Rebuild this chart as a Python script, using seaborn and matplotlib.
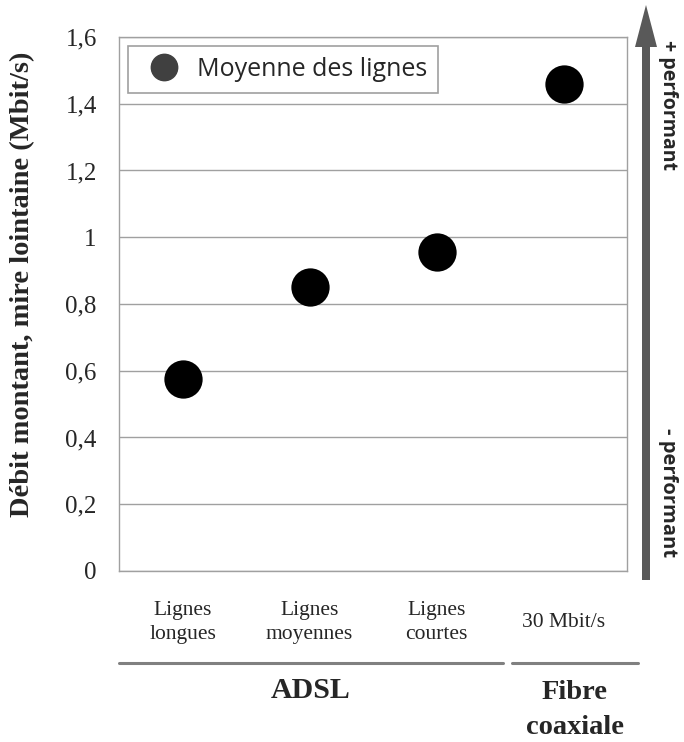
import pandas as pd
import matplotlib.pyplot as plt
import seaborn as sns
from matplotlib.lines import Line2D
from matplotlib.patches import FancyArrow

categories = ["Lignes\nlongues", "Lignes\nmoyennes", "Lignes\ncourtes", "30 Mbit/s"]
values = [0.575, 0.85, 0.955, 1.46]
y_ticks = [0, 0.2, 0.4, 0.6, 0.8, 1.0, 1.2, 1.4, 1.6]
y_labels = ["0", "0,2", "0,4", "0,6", "0,8", "1", "1,2", "1,4", "1,6"]
groups = ["ADSL", "Fibre\ncoaxiale"]

sns.set_theme(style="white")
plt.rcParams["font.family"] = ["Liberation Serif", "DejaVu Serif"]

frame = pd.DataFrame({"cat": categories, "val": values})

fig = plt.figure(figsize=(6.84, 7.42), dpi=100)
ax = fig.add_axes([0.174, 0.2305, 0.743, 0.7197])

sns.scatterplot(data=frame, x="cat", y="val", ax=ax, s=760, color="black",
                edgecolor="black", linewidth=0, legend=False, zorder=3)

ax.set_xlim(-0.5, 3.5)
ax.set_ylim(0, 1.6)
ax.set_yticks(y_ticks)
ax.set_yticklabels(y_labels, fontsize=18)
ax.set_xticks(range(4))
ax.set_xticklabels(categories, fontsize=15.5, linespacing=1.35, va="center")
ax.tick_params(axis="x", length=0, pad=37)
ax.tick_params(axis="y", length=0, pad=16)
ax.yaxis.grid(True, color="#a0a0a0", linewidth=1)
ax.set_axisbelow(True)
for sp in ax.spines.values():
    sp.set_color("#a0a0a0")
    sp.set_linewidth(1)
ax.set_xlabel("")
ax.set_ylabel("Débit montant, mire lointaine (Mbit/s)", fontsize=20.5,
              fontweight="bold")
ax.yaxis.set_label_coords(-0.165, 0.536)

handle = Line2D([], [], marker="o", linestyle="", markersize=19,
                markerfacecolor="#404040", markeredgecolor="#404040")
leg = ax.legend([handle], ["Moyenne des lignes"], loc="upper left",
                bbox_to_anchor=(0.0, 1.0), fancybox=False, framealpha=1,
                prop={"family": "Open Sans", "size": 18}, handletextpad=0.3,
                borderpad=0.45, borderaxespad=0.35)
leg.get_frame().set_edgecolor("#a0a0a0")
leg.get_frame().set_linewidth(1.2)

# group lines under the category labels
fig.add_artist(Line2D([119 / 684, 503 / 684], [1 - 663 / 742] * 2,
                      color="#808080", linewidth=2.2))
fig.add_artist(Line2D([512 / 684, 638 / 684], [1 - 663 / 742] * 2,
                      color="#808080", linewidth=2.2))
fig.text(311 / 684, 1 - 690 / 742, groups[0], ha="center", va="center",
         fontsize=21.5, fontweight="bold")
fig.text(575 / 684, 1 - 710 / 742, groups[1], ha="center", va="center",
         fontsize=20.5, fontweight="bold", linespacing=1.5)

# performance arrow (in inches)
fig.add_artist(FancyArrow(6.46, 7.42 - 5.80, 0, 5.75, width=0.08,
                          head_width=0.22, head_length=0.42,
                          length_includes_head=True, color="#595959",
                          linewidth=0, transform=fig.dpi_scale_trans))
fig.text(668 / 684, 1 - 105 / 742, "+ performant", rotation=270, ha="center",
         va="center", fontsize=14, fontweight="bold", family="Open Sans")
fig.text(668 / 684, 1 - 493 / 742, "- performant", rotation=270, ha="center",
         va="center", fontsize=14.5, fontweight="bold", family="Open Sans")

fig.savefig("out.png", dpi=100)
